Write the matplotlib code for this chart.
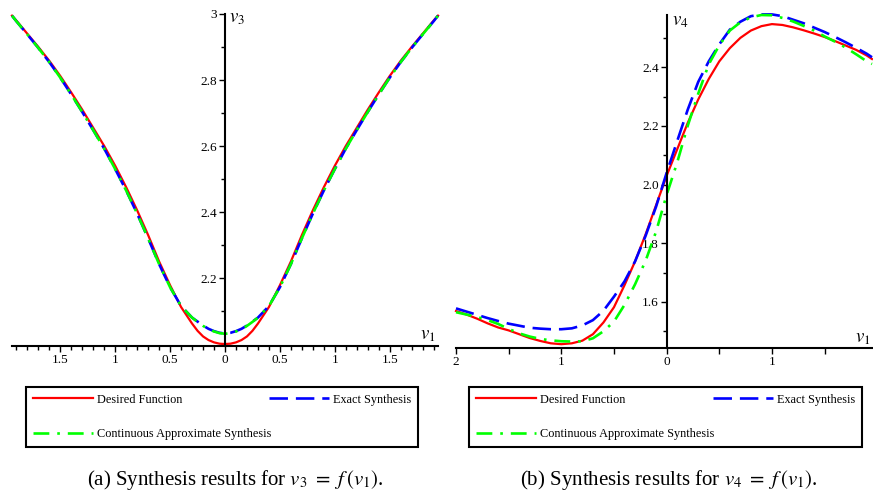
import matplotlib
matplotlib.use("Agg")
import matplotlib.pyplot as plt
from matplotlib.ticker import MultipleLocator, FuncFormatter, FixedLocator

plt.rcParams['font.family'] = 'serif'
plt.rcParams['font.serif'] = ['Liberation Serif', 'DejaVu Serif']
plt.rcParams['mathtext.fontset'] = 'stix'

# ---- (a) v3 = f(v1) ----
v1_a = [-1.94, -1.9, -1.8, -1.7, -1.6, -1.5, -1.4, -1.3, -1.2, -1.1, -1.0,
        -0.9, -0.8, -0.7, -0.6, -0.5, -0.4, -0.3, -0.25, -0.2, -0.15, -0.1, -0.05, 0.0,
        0.05, 0.1, 0.15, 0.2, 0.25, 0.3, 0.4, 0.5, 0.6, 0.7, 0.8, 0.9, 1.0,
        1.1, 1.2, 1.3, 1.4, 1.5, 1.6, 1.7, 1.8, 1.9, 1.94]
desired_a = [2.995, 2.98, 2.94, 2.90, 2.858, 2.812, 2.762, 2.71, 2.655, 2.60, 2.54,
             2.475, 2.405, 2.33, 2.25, 2.178, 2.112, 2.062, 2.04, 2.023, 2.012, 2.005, 2.001, 2.0,
             2.001, 2.005, 2.012, 2.023, 2.04, 2.062, 2.112, 2.178, 2.25, 2.33, 2.405, 2.475, 2.54,
             2.60, 2.655, 2.71, 2.762, 2.812, 2.858, 2.90, 2.94, 2.98, 2.995]
exact_a = [2.995, 2.978, 2.938, 2.897, 2.854, 2.807, 2.756, 2.703, 2.648, 2.592, 2.53,
           2.465, 2.395, 2.32, 2.242, 2.172, 2.115, 2.08, 2.068, 2.056, 2.046, 2.039, 2.034, 2.032,
           2.034, 2.039, 2.046, 2.056, 2.068, 2.08, 2.115, 2.172, 2.242, 2.32, 2.395, 2.465, 2.53,
           2.592, 2.648, 2.703, 2.756, 2.807, 2.854, 2.897, 2.938, 2.978, 2.995]
approx_a = [2.995, 2.978, 2.938, 2.897, 2.854, 2.807, 2.756, 2.703, 2.648, 2.592, 2.53,
            2.465, 2.395, 2.32, 2.242, 2.172, 2.115, 2.08, 2.067, 2.055, 2.045, 2.038, 2.033, 2.031,
            2.033, 2.038, 2.045, 2.055, 2.067, 2.08, 2.115, 2.172, 2.242, 2.32, 2.395, 2.465, 2.53,
            2.592, 2.648, 2.703, 2.756, 2.807, 2.854, 2.897, 2.938, 2.978, 2.995]

# ---- (b) v4 = f(v1) ----
v1_b = [-2.0, -1.9, -1.8, -1.7, -1.6, -1.5, -1.4, -1.3, -1.2, -1.1, -1.0,
        -0.9, -0.8, -0.7, -0.6, -0.5, -0.4, -0.3, -0.2, -0.1, 0.0,
        0.1, 0.2, 0.3, 0.4, 0.5, 0.6, 0.7, 0.8, 0.9, 1.0,
        1.1, 1.2, 1.3, 1.4, 1.5, 1.6, 1.7, 1.8, 1.9, 1.95]
desired_b = [1.569, 1.557, 1.543, 1.527, 1.513, 1.503, 1.49, 1.477, 1.467, 1.459, 1.456,
             1.459, 1.468, 1.49, 1.53, 1.582, 1.657, 1.738, 1.83, 1.93, 2.03,
             2.12, 2.21, 2.29, 2.36, 2.42, 2.465, 2.50, 2.525, 2.54, 2.547,
             2.544, 2.536, 2.526, 2.515, 2.503, 2.489, 2.474, 2.459, 2.44, 2.428]
exact_b = [1.578, 1.567, 1.556, 1.545, 1.535, 1.526, 1.519, 1.512, 1.509, 1.507, 1.507,
           1.51, 1.52, 1.538, 1.57, 1.618, 1.67, 1.738, 1.825, 1.925, 2.04,
           2.148, 2.255, 2.35, 2.42, 2.478, 2.528, 2.555, 2.574, 2.58, 2.58,
           2.574, 2.562, 2.55, 2.535, 2.52, 2.503, 2.485, 2.466, 2.446, 2.434]
approx_b = [1.565, 1.557, 1.549, 1.538, 1.525, 1.508, 1.493, 1.482, 1.474, 1.469, 1.466,
            1.465, 1.466, 1.476, 1.50, 1.533, 1.59, 1.66, 1.74, 1.84, 1.965,
            2.075, 2.20, 2.31, 2.41, 2.475, 2.525, 2.553, 2.57, 2.578, 2.577,
            2.568, 2.556, 2.541, 2.525, 2.505, 2.487, 2.467, 2.444, 2.42, 2.411]

labels = ["Desired Function", "Exact Synthesis", "Continuous Approximate Synthesis"]
colors = ["#ff0000", "#0000ff", "#00ff00"]

W, H = 873, 494
fig = plt.figure(figsize=(W / 100, H / 100), dpi=100)


def px_rect(x0, y0, x1, y1):
    return [x0 / W, 1 - y1 / H, (x1 - x0) / W, (y1 - y0) / H]


def style_axes(ax):
    for s in ['top', 'right']:
        ax.spines[s].set_visible(False)
    ax.spines['left'].set_position(('data', 0))
    ax.spines['left'].set_linewidth(1.5)
    ax.spines['bottom'].set_linewidth(1.5)
    ax.set_axisbelow(True)
    ax.tick_params(which='both', direction='out', labelsize=9.5, pad=1.5, width=1)
    ax.tick_params(which='major', length=4)
    ax.tick_params(which='minor', length=3)
    ax.patch.set_alpha(0)


def plot_curves(ax, x, d, e, a):
    l1, = ax.plot(x, d, color=colors[0], lw=1.6, label=labels[0], clip_on=False)
    l2, = ax.plot(x, e, color=colors[1], lw=1.9, ls=(0, (7, 3)), label=labels[1],
                  clip_on=False)
    l3, = ax.plot(x, a, color=colors[2], lw=1.9, ls=(0, (6, 3, 1, 3)), label=labels[2],
                  clip_on=False)
    return l1, l2, l3


absfmt = FuncFormatter(lambda v, p: '%g' % abs(round(v, 3)))

# left panel
ax1 = fig.add_axes(px_rect(12, 14, 438, 346))
h1 = plot_curves(ax1, v1_a, desired_a, exact_a, approx_a)
ax1.set_xlim(-1.94, 1.94)
ax1.set_ylim(1.994, 3.0)
style_axes(ax1)
ax1.xaxis.set_major_locator(MultipleLocator(0.5))
ax1.xaxis.set_minor_locator(MultipleLocator(0.1))
ax1.xaxis.set_major_formatter(absfmt)
ax1.yaxis.set_major_locator(FixedLocator([2.2, 2.4, 2.6, 2.8, 3.0]))
ax1.yaxis.set_minor_locator(MultipleLocator(0.1))
ax1.yaxis.set_major_formatter(FuncFormatter(lambda v, p: '%g' % round(v, 2)))
ax1.text(0.04, 3.012, '$v_3$', fontsize=13.5, va='top', ha='left')
ax1.text(1.92, 1.999, '$v_1$', fontsize=13.5, va='bottom', ha='right')

# right panel
ax2 = fig.add_axes(px_rect(456, 15, 872, 348))
h2 = plot_curves(ax2, v1_b, desired_b, exact_b, approx_b)
ax2.set_xlim(-2.0, 1.95)
ax2.set_ylim(1.443, 2.578)
style_axes(ax2)
ax2.xaxis.set_major_locator(MultipleLocator(1))
ax2.xaxis.set_minor_locator(MultipleLocator(0.5))
ax2.xaxis.set_major_formatter(absfmt)
ax2.tick_params(axis='x', which='minor', length=4)
ax2.yaxis.set_major_locator(FixedLocator([1.6, 1.8, 2.0, 2.2, 2.4]))
ax2.yaxis.set_minor_locator(MultipleLocator(0.1))
ax2.yaxis.set_major_formatter(FuncFormatter(lambda v, p: '%.1f' % v))
ax2.text(0.05, 2.585, '$v_4$', fontsize=13.5, va='top', ha='left')
ax2.text(1.94, 1.447, '$v_1$', fontsize=13.5, va='bottom', ha='right')


def add_legend(handles, x0, x1):
    r = px_rect(x0, 387, x1, 446)
    leg = fig.legend([handles[0], handles[2], handles[1]],
                     [labels[0], labels[2], labels[1]],
                     loc='upper left', bbox_to_anchor=r, mode='expand', ncol=2,
                     fontsize=8.8, handlelength=4.9, handletextpad=0.33,
                     borderpad=0.55, labelspacing=1.85, borderaxespad=0,
                     fancybox=False, frameon=True, edgecolor='black', framealpha=1)
    leg.get_frame().set_linewidth(1.5)
    return leg


add_legend(h1, 26, 418)
add_legend(h2, 469, 862)

fig.text(235 / W, 1 - 480 / H, r'(a) Synthesis results for $v_3\ =\ f\,(v_1)$.',
         ha='center', va='center', fontsize=15)
fig.text(669 / W, 1 - 480 / H, r'(b) Synthesis results for $v_4\ =\ f\,(v_1)$.',
         ha='center', va='center', fontsize=15)

fig.savefig('out.png', dpi=100)
